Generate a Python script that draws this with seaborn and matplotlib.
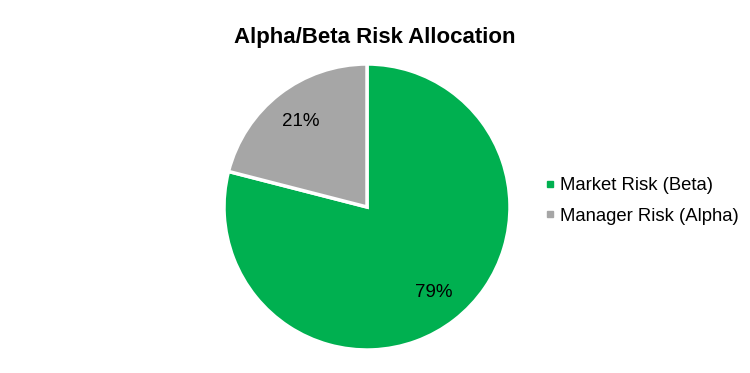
import numpy as np
import matplotlib
matplotlib.use("Agg")
import matplotlib.pyplot as plt
from matplotlib.lines import Line2D
import seaborn as sns

labels = ["Market Risk (Beta)", "Manager Risk (Alpha)"]
shares = [79, 21]
colors = ["#00b050", "#a6a6a6"]

sns.set_theme(style="white")
plt.rcParams['font.family'] = ['Liberation Sans', 'DejaVu Sans']
plt.rcParams['text.color'] = 'black'

fig = plt.figure(figsize=(7.5, 3.73), dpi=100)
ax = fig.add_axes([224 / 750, 23 / 373, 286 / 750, 286 / 373])

wedges, texts, autotexts = ax.pie(
    shares, colors=colors, startangle=90, counterclock=False,
    autopct="%d%%", pctdistance=0.76,
    wedgeprops=dict(edgecolor="white", linewidth=2.5),
    textprops=dict(fontsize=13.5, color="black"))
ax.set_xlim(-1, 1)
ax.set_ylim(-1, 1)
ax.set_aspect("equal")

fig.text(375 / 750, 1 - 37 / 373, "Alpha/Beta Risk Allocation",
         ha="center", va="center", fontsize=16, fontweight="bold", color="black")

handles = [Line2D([], [], marker="s", linestyle="none", markersize=5,
                  markerfacecolor=c, markeredgecolor=c) for c in colors]
fig.legend(handles, labels, loc="center left", bbox_to_anchor=(524 / 750, 1 - 201 / 373),
           frameon=False, fontsize=13.3, handletextpad=0.05, labelspacing=0.75,
           handlelength=1.0, labelcolor="black")

fig.savefig("out.png", dpi=100)
